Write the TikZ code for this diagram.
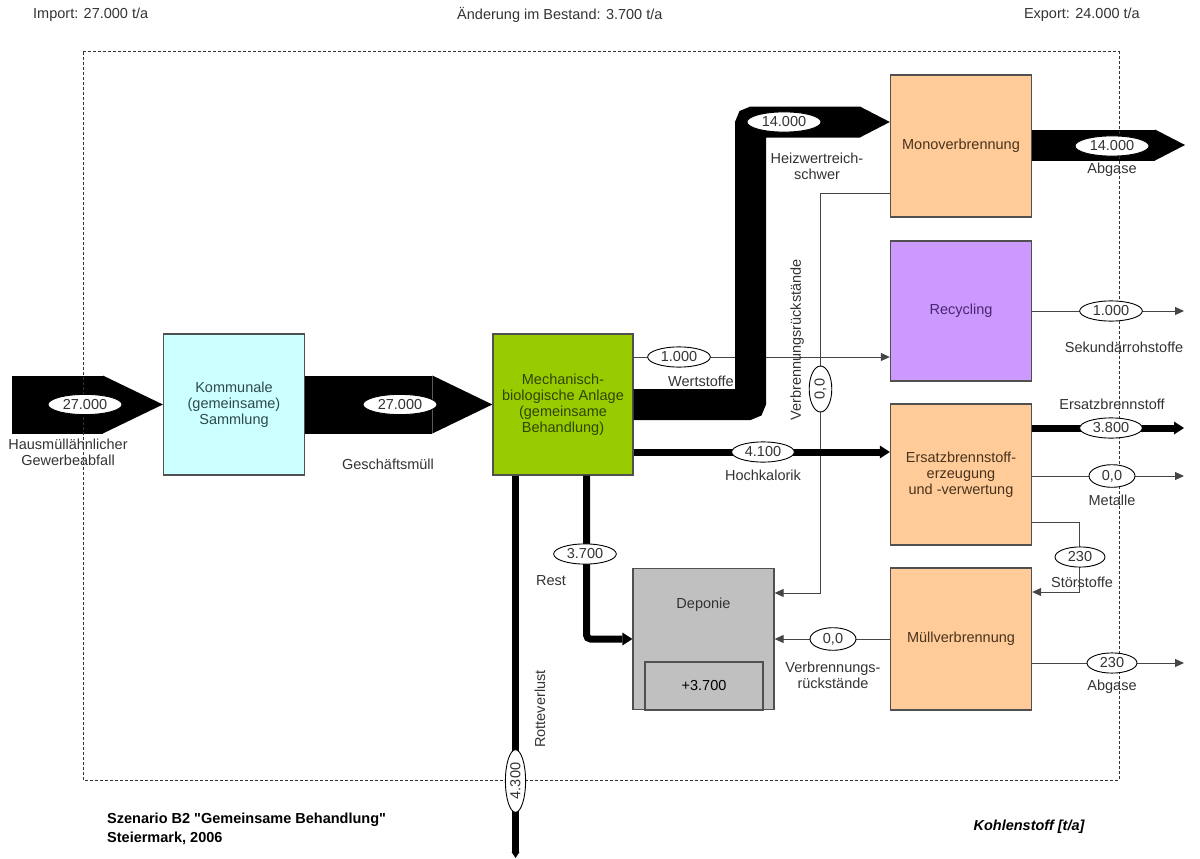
\documentclass[tikz,border=0pt]{standalone}
\usepackage{fontspec}
\setmainfont{Liberation Sans}
\usetikzlibrary{arrows.meta,shapes.geometric,calc}

\definecolor{kommfill}{HTML}{CCFFFF}
\definecolor{mbafill}{HTML}{99CC00}
\definecolor{peach}{HTML}{FFCC99}
\definecolor{lilac}{HTML}{CC99FF}
\definecolor{depfill}{HTML}{C0C0C0}
\definecolor{edge}{HTML}{505050}
\definecolor{ink}{HTML}{333333}
\definecolor{thinline}{HTML}{454545}
\definecolor{kommtext}{HTML}{2F4A4A}
\definecolor{mbatext}{HTML}{2E4600}
\definecolor{peachtext}{HTML}{4A321C}
\definecolor{lilactext}{HTML}{4A2670}

\newcommand\flowfont{\fontsize{14.5pt}{16pt}\selectfont}

\begin{document}
\begin{tikzpicture}[x=1pt,y=-1pt,
  proc/.style={draw=edge, line width=1.3pt, minimum width=141pt, minimum height=141pt,
    inner sep=0pt, align=center, font=\flowfont},
  val/.style={ellipse, draw=black, line width=0.9pt, fill=white, inner xsep=4pt,
    inner ysep=2pt, font=\flowfont, text=ink},
  tag/.style={font=\flowfont, text=ink, align=center, inner sep=0pt},
  thin/.style={draw=thinline, line width=1pt, -{Triangle[length=9pt,width=8pt]}},
  flow8/.style={draw=black, line width=7pt, -{Triangle[length=10pt,width=13pt,line width=0pt]}},
  band30/.style={draw=black, line width=31pt, -{Triangle[length=30pt,width=31pt,line width=0pt]}},
  band58/.style={draw=black, line width=58pt, -{Triangle[length=60pt,width=58pt,line width=0pt]}},
  border/.style={draw=ink, line width=1pt, dash pattern=on 3pt off 2pt}
]
\useasboundingbox (0,0) rectangle (1200,859);

% header line
\node[tag, anchor=west] (imp) at (33,15) {Import: 27.000 t/a};
\node[tag, anchor=west] (delta) at (457,15) {Änderung im Bestand: 3.700 t/a};
\node[tag, anchor=east] (exp) at (1140,15) {Export: 24.000 t/a};

% processes
\node[proc, fill=kommfill, text=kommtext] (komm) at (234,404.5)
  {Kommunale\\(gemeinsame)\\Sammlung};
\node[proc, fill=mbafill, text=mbatext, minimum width=140pt] (mba) at (563,404.5)
  {Mechanisch-\\biologische Anlage\\(gemeinsame\\Behandlung)};
\node[proc, fill=peach, text=peachtext, minimum height=142pt] (mono) at (961,146) {Monoverbrennung};
\node[proc, fill=lilac, text=lilactext, minimum height=140pt] (recyc) at (961,311) {Recycling};
\node[proc, fill=peach, text=peachtext] (ersatz) at (961,474.5)
  {Ersatzbrennstoff-\\erzeugung\\und -verwertung};
\node[proc, fill=peach, text=peachtext, minimum height=142pt] (muell) at (961,639) {Müllverbrennung};
\node[proc, fill=depfill] (dep) at (703.5,639) {};
\node[tag] (deptext) at (703.5,605) {Deponie};
\node[proc, fill=depfill, minimum width=118pt, minimum height=48pt] (lager) at (704,686) {+3.700};

% helper points of the connectors
\coordinate (inA) at (12,404.5);
\coordinate (wy) at (0,357);
\coordinate (b1) at (750.5,404.5);
\coordinate (b2) at (750.5,122);
\coordinate (vr1) at (820.5,193);
\coordinate (vr2) at (820.5,593);
\coordinate (hk) at (0,452);
\coordinate (rb) at (586.5,639);
\coordinate (rot) at (515.5,858);
\coordinate (outMono) at (1185,145);
\coordinate (outSek) at (1184,311);
\coordinate (outEbs) at (1184,428);
\coordinate (outMet) at (1184,476);
\coordinate (st1) at (1079.5,522);
\coordinate (st2) at (1079.5,592);
\coordinate (outAbg) at (1184,663);

% thin connectors
\draw[thin] (mba.east |- wy) -- (recyc.west |- wy);
\draw[thin] (vr1 -| mono.west) -- (vr1) -- (vr2) -- (vr2 -| dep.east);
\draw[thin] (recyc.east) -- (outSek);
\draw[thin] (outMet -| ersatz.east) -- (outMet);
\draw[thin] (st1 -| ersatz.east) -- (st1) -- (st2) -- (st2 -| muell.east);
\draw[thin] (muell.west) -- (dep.east);
\draw[thin] (outAbg -| muell.east) -- (outAbg);

% heavy flows
\draw[band58] (inA) -- (komm.west);
\draw[band58] (komm.east) -- (mba.west);
\draw[band30, rounded corners=3pt] (mba.east) -- (b1) -- (b2) -- (b2 -| mono.west);
\draw[band30] (outMono -| mono.east) -- (outMono);
\draw[flow8] (mba.east |- hk) -- (ersatz.west |- hk);
\draw[flow8] (outEbs -| ersatz.east) -- (outEbs);
\draw[flow8, rounded corners=4pt] (rb |- mba.south) -- (rb) -- (dep.west);
\draw[draw=black, line width=7pt, -{Triangle[length=6pt,width=8pt,line width=0pt]}] (rot |- mba.south) -- (rot);

% system boundary
\draw[border] (83,52) rectangle (1119,780);

% flow values
\node[val] (v27a) at (85,404.5) {27.000};
\node[val] (v27b) at (400,404.5) {27.000};
\node[val] (v14a) at (784,122) {14.000};
\node[val] (v14b) at (1112,146) {14.000};
\node[val] (v1a) at (679,357) {1.000};
\node[val, rotate=90, minimum width=46pt] (v00v) at (820.5,389) {0,0};
\node[val] (v41) at (763,452) {4.100};
\node[val] (v1b) at (1111,311) {1.000};
\node[val] (v38) at (1111,428) {3.800};
\node[val, minimum width=46pt] (v00m) at (1112,476) {0,0};
\node[val, minimum width=50pt] (v230s) at (1080,557) {230};
\node[val] (v37) at (585,554) {3.700};
\node[val, minimum width=46pt] (v00d) at (833,639) {0,0};
\node[val, minimum width=50pt] (v230a) at (1112,663) {230};
\node[val, rotate=90, minimum width=62pt] (v43) at (515.5,781) {4.300};

% flow names
\node[tag] (l1) at (68,452) {Hausmüllähnlicher\\Gewerbeabfall};
\node[tag] (l2) at (388,464) {Geschäftsmüll};
\node[tag] (l3) at (701,381) {Wertstoffe};
\node[tag] (l4) at (817,166) {Heizwertreich-\\schwer};
\node[tag] (l5) at (1112,170) {Abgase};
\node[tag, rotate=90] (l6) at (797,340) {Verbrennungsrückstände};
\node[tag] (l7) at (1124,347) {Sekundärrohstoffe};
\node[tag] (l8) at (1112,404) {Ersatzbrennstoff};
\node[tag] (l9) at (763,475) {Hochkalorik};
\node[tag] (l10) at (1112,500) {Metalle};
\node[tag] (l11) at (1082,582) {Störstoffe};
\node[tag] (l12) at (551,581) {Rest};
\node[tag] (l13) at (833,675) {Verbrennungs-\\rückstände};
\node[tag] (l14) at (1112,687) {Abgase};
\node[tag, rotate=90] (l15) at (540,709) {Rotteverlust};

% footer
\node[tag, anchor=west, font=\flowfont\bfseries, text=black] (sz) at (107,820)
  {Szenario B2 \textquotedbl Gemeinsame Behandlung\textquotedbl};
\node[tag, anchor=west, font=\flowfont\bfseries, text=black] (st) at (107,838) {Steiermark, 2006};
\node[tag, font=\flowfont\bfseries\itshape, text=black] (unit) at (1029,827) {Kohlenstoff [t/a]};
\end{tikzpicture}
\end{document}
